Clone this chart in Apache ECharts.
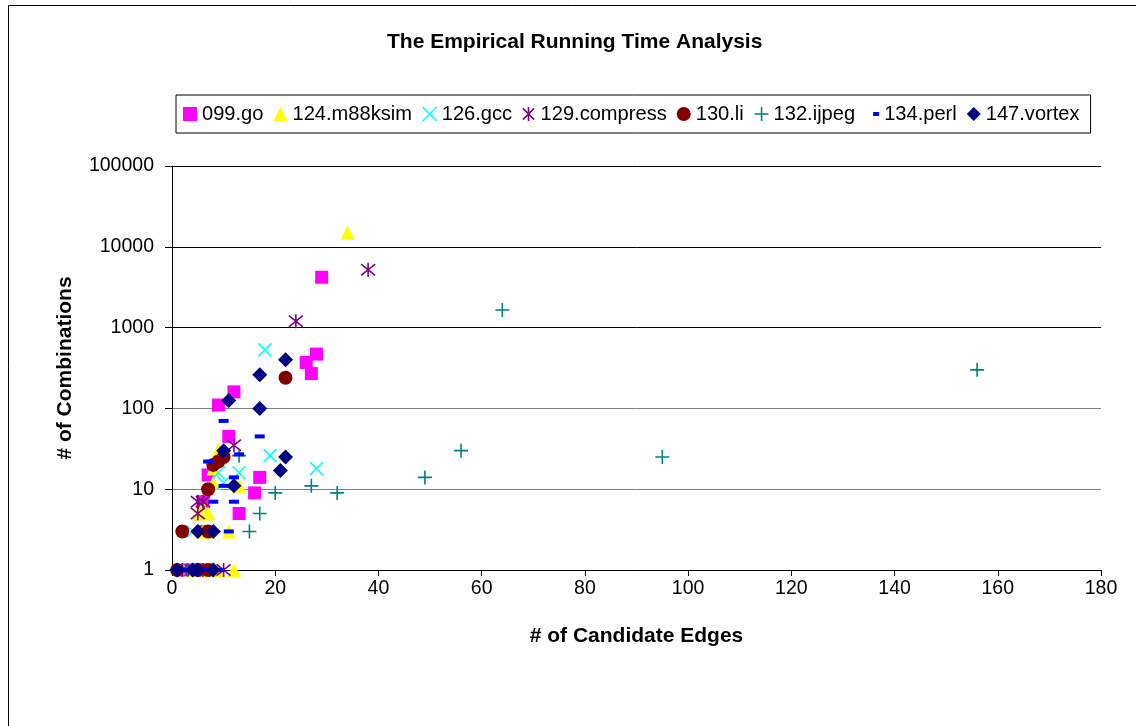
<!DOCTYPE html>
<html>
<head>
<meta charset="utf-8">
<script src="https://cdn.jsdelivr.net/npm/echarts@6/dist/echarts.min.js"></script>
<style>
html,body{margin:0;padding:0;background:#fff;}
#chart{width:1136px;height:726px;}
</style>
</head>
<body>
<div id="chart"></div>
<script>
// ---- data (x = # of candidate edges, y = # of combinations) ----
const seriesNames = ['099.go','124.m88ksim','126.gcc','129.compress','130.li','132.ijpeg','134.perl','147.vortex'];
const go = [[29,4200],[28,470],[26,370],[27,270],[12,160],[9,110],[11,45],[17,14],[16,9],[13,5],[7,15],[6,7],[6,3],[5,1],[7,1],[3,1]];
const m88ksim = [[34,15000],[12,1],[11,3],[9,31],[13,11],[8,12],[8,18],[7,5],[5,5],[6,6],[6,3],[7,3],[9,1],[7,1],[4,1]];
const gcc = [[18,530],[28,18],[19,26],[13,16],[9,16],[10,12],[4,3],[3,1],[6,1],[2,1]];
const compress = [[38,5200],[24,1200],[12,35],[5,7],[6,7],[5,5],[10,1],[4,1],[2,1],[6,1]];
const li = [[22,240],[10,25],[9,22],[8,20],[7,10],[2,3],[7,3],[1,1],[5,1],[7,1]];
const ijpeg = [[156,300],[64,1650],[95,25],[56,30],[49,14],[32,9],[27,11],[20,9],[17,5],[15,3],[13,26],[3,1],[8,1]];
const perl = [[10,70],[17,45],[13,27],[7,22],[12,14],[10,11],[8,7],[12,7],[11,3],[2,1],[6,1],[9,1]];
const vortex = [[22,400],[17,260],[11,125],[17,100],[22,25],[21,17],[10,30],[12,11],[5,3],[8,3],[1,1],[4,1],[5,1],[8,1]];
const xTicks = [0,20,40,60,80,100,120,140,160,180];
const yTicks = [1,10,100,1000,10000,100000];

const FONT = 'Liberation Sans, Arial, sans-serif';
const P_X = 'path://M0,0L10,10M10,0L0,10';
const P_AST = 'path://M1,1L9,9M9,1L1,9M5,0L5,10';
const P_PLUS = 'path://M5,0L5,10M0,5L10,5';
const P_DASH_LEG = 'path://M0,0M14,14M8,5h6v4h-6z';

const styleDefs = [
  {data: go, color:'#FF00FF', symbol:'rect', size:13},
  {data: m88ksim, color:'#FFFF00', symbol:'triangle', size:14},
  {data: gcc, color:'#00FFFF', symbol:P_X, size:13, stroke:true},
  {data: compress, color:'#800080', symbol:P_AST, size:14, stroke:true},
  {data: li, color:'#800000', symbol:'circle', size:14},
  {data: ijpeg, color:'#008080', symbol:P_PLUS, size:14, stroke:true},
  {data: perl, color:'#0000FF', symbol:'rect', size:[10,4]},
  {data: vortex, color:'#000080', symbol:'diamond', size:15}
];
const legendIcons = ['rect','triangle',P_X,P_AST,'circle',P_PLUS,P_DASH_LEG,'diamond'];

const series = styleDefs.map((d,i)=>({
  name: seriesNames[i],
  type:'scatter',
  data: d.data,
  symbol: d.symbol,
  symbolSize: d.size,
  itemStyle: d.stroke ? {color:d.color, borderColor:d.color, borderWidth:1.6, opacity:1}
                      : {color:d.color, opacity:1},
  emphasis:{disabled:true},
  animation:false
}));

const chart = echarts.init(document.getElementById('chart'), null, {renderer:'canvas'});
chart.setOption({
  backgroundColor:'#fff',
  animation:false,
  title:{
    text:'The Empirical Running Time Analysis',
    left: 382, top: 27,
    textStyle:{fontFamily:FONT, fontSize:21, fontWeight:'bold', color:'#000'}
  },
  legend:{
    left:176, top:95,
    padding:[8,11,8,7],
    itemGap:10, itemWidth:14, itemHeight:14,
    borderColor:'#000', borderWidth:1,
    textStyle:{fontFamily:FONT, fontSize:20.1, color:'#000', lineHeight:22},
    data: seriesNames.map((n,i)=>({name:n, icon:legendIcons[i],
      itemStyle: styleDefs[i].stroke ? {borderWidth:1.6} : {borderWidth:0}})),
    selectedMode:false
  },
  grid:{left:172, right:35, top:166, bottom:156, containLabel:false},
  xAxis:{
    type:'value', min:0, max:180, interval:20,
    axisLine:{show:true, onZero:false, lineStyle:{color:'#000', width:1}},
    axisTick:{show:true, inside:false, length:6, lineStyle:{color:'#000'}},
    axisLabel:{fontFamily:FONT, fontSize:19.5, color:'#000', margin:9,
      formatter:v=> xTicks.includes(v) ? String(v) : ''},
    splitLine:{show:false},
    name:'# of Candidate Edges', nameLocation:'middle', nameGap:56,
    nameTextStyle:{fontFamily:FONT, fontSize:21, fontWeight:'bold', color:'#000'}
  },
  yAxis:{
    type:'log', logBase:10, min:1, max:100000,
    axisLine:{show:true, lineStyle:{color:'#000', width:1}},
    axisTick:{show:true, inside:false, length:7, lineStyle:{color:'#000'}},
    minorTick:{show:false},
    axisLabel:{fontFamily:FONT, fontSize:19.5, color:'#000', margin:18,
      formatter:v=>{const r=Math.round(v); return yTicks.includes(r)?String(r):'';}},
    splitLine:{show:true, lineStyle:{color:['#000','#808080','#808080','#000','#000','#000'], width:1}},
    name:'# of Combinations', nameLocation:'middle', nameGap:96,
    nameTextStyle:{fontFamily:FONT, fontSize:21, fontWeight:'bold', color:'#000'}
  },
  graphic:[{
    type:'rect', shape:{x:8.5, y:5.5, width:1140, height:740},
    style:{fill:'none', stroke:'#000', lineWidth:1}, silent:true, z:-1
  }],
  series: series
});
</script>
</body>
</html>
